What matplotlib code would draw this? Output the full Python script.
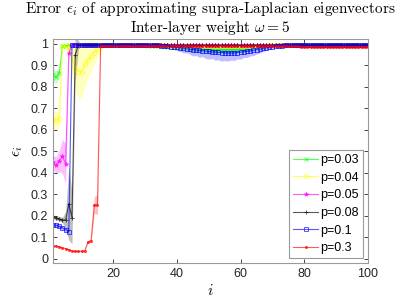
import numpy as np
import matplotlib
matplotlib.use('Agg')
import matplotlib.pyplot as plt

plt.rcParams['mathtext.fontset'] = 'cm'
plt.rcParams['font.family'] = 'Liberation Sans'

idx = np.arange(1, 101)

# mean error per eigenvector index, one list per edge probability p
err_p003 = [
    0.856, 0.845, 0.867, 0.990, 0.992, 0.993, 0.993, 0.994, 0.994, 0.994,
    0.994, 0.994, 0.994, 0.994, 0.994, 0.994, 0.994, 0.994, 0.994, 0.994,
    0.994, 0.994, 0.994, 0.993, 0.993, 0.993, 0.993, 0.993, 0.993, 0.993,
    0.992, 0.992, 0.991, 0.991, 0.990, 0.989, 0.988, 0.987, 0.986, 0.985,
    0.984, 0.983, 0.982, 0.981, 0.980, 0.979, 0.978, 0.977, 0.976, 0.975,
    0.975, 0.974, 0.974, 0.973, 0.973, 0.973, 0.973, 0.974, 0.975, 0.976,
    0.977, 0.978, 0.980, 0.982, 0.984, 0.986, 0.988, 0.990, 0.991, 0.992,
    0.993, 0.993, 0.994, 0.994, 0.994, 0.994, 0.994, 0.994, 0.994, 0.994,
    0.994, 0.994, 0.994, 0.994, 0.994, 0.994, 0.994, 0.994, 0.994, 0.994,
    0.994, 0.994, 0.994, 0.994, 0.994, 0.994, 0.994, 0.994, 0.994, 0.994,
]
sd_p003 = [
    0.025, 0.030, 0.020, 0.006, 0.004, 0.003, 0.003, 0.003, 0.003, 0.003,
    0.003, 0.003, 0.003, 0.003, 0.003, 0.003, 0.003, 0.003, 0.003, 0.003,
    0.003, 0.003, 0.003, 0.003, 0.003, 0.003, 0.003, 0.003, 0.003, 0.003,
    0.003, 0.003, 0.004, 0.004, 0.005, 0.006, 0.007, 0.008, 0.009, 0.010,
    0.011, 0.012, 0.013, 0.014, 0.015, 0.015, 0.016, 0.016, 0.017, 0.017,
    0.017, 0.018, 0.018, 0.018, 0.018, 0.018, 0.017, 0.017, 0.016, 0.015,
    0.014, 0.013, 0.012, 0.011, 0.010, 0.008, 0.007, 0.006, 0.005, 0.004,
    0.003, 0.003, 0.003, 0.003, 0.003, 0.003, 0.003, 0.003, 0.003, 0.003,
    0.003, 0.003, 0.003, 0.003, 0.003, 0.003, 0.003, 0.003, 0.003, 0.003,
    0.003, 0.003, 0.003, 0.003, 0.003, 0.003, 0.003, 0.003, 0.003, 0.003,
]

err_p004 = [
    0.650, 0.640, 0.652, 0.990, 0.990, 0.980, 0.930, 0.890, 0.871, 0.870,
    0.905, 0.925, 0.945, 0.960, 0.975, 0.990, 0.993, 0.993, 0.993, 0.993,
    0.993, 0.993, 0.993, 0.993, 0.993, 0.993, 0.993, 0.993, 0.993, 0.993,
    0.993, 0.993, 0.993, 0.993, 0.993, 0.993, 0.993, 0.992, 0.992, 0.992,
    0.992, 0.992, 0.991, 0.991, 0.991, 0.991, 0.990, 0.990, 0.990, 0.990,
    0.990, 0.990, 0.990, 0.990, 0.990, 0.990, 0.990, 0.990, 0.990, 0.990,
    0.990, 0.991, 0.991, 0.991, 0.991, 0.992, 0.992, 0.992, 0.993, 0.993,
    0.993, 0.993, 0.993, 0.993, 0.993, 0.993, 0.993, 0.993, 0.993, 0.993,
    0.993, 0.993, 0.993, 0.993, 0.993, 0.993, 0.993, 0.993, 0.993, 0.993,
    0.993, 0.993, 0.993, 0.993, 0.993, 0.993, 0.993, 0.993, 0.993, 0.993,
]
sd_p004 = [
    0.040, 0.045, 0.040, 0.010, 0.010, 0.030, 0.080, 0.100, 0.125, 0.120,
    0.110, 0.085, 0.075, 0.055, 0.040, 0.020, 0.003, 0.003, 0.003, 0.003,
    0.003, 0.003, 0.003, 0.003, 0.003, 0.003, 0.003, 0.003, 0.003, 0.003,
    0.003, 0.003, 0.003, 0.003, 0.003, 0.003, 0.003, 0.003, 0.003, 0.003,
    0.004, 0.004, 0.004, 0.005, 0.005, 0.005, 0.005, 0.005, 0.005, 0.005,
    0.005, 0.005, 0.005, 0.005, 0.005, 0.005, 0.005, 0.005, 0.005, 0.005,
    0.005, 0.004, 0.004, 0.004, 0.004, 0.003, 0.003, 0.003, 0.003, 0.003,
    0.003, 0.003, 0.003, 0.003, 0.003, 0.003, 0.003, 0.003, 0.003, 0.003,
    0.003, 0.003, 0.003, 0.003, 0.003, 0.003, 0.003, 0.003, 0.003, 0.003,
    0.003, 0.003, 0.003, 0.003, 0.003, 0.003, 0.003, 0.003, 0.003, 0.003,
]

err_p005 = [
    0.450, 0.434, 0.456, 0.476, 0.442, 0.957, 0.993, 0.994, 0.994, 0.994,
    0.994, 0.994, 0.994, 0.994, 0.994, 0.994, 0.994, 0.994, 0.994, 0.994,
    0.994, 0.994, 0.994, 0.994, 0.994, 0.994, 0.994, 0.994, 0.994, 0.994,
    0.994, 0.994, 0.994, 0.993, 0.993, 0.993, 0.993, 0.993, 0.993, 0.993,
    0.993, 0.993, 0.993, 0.993, 0.993, 0.993, 0.993, 0.993, 0.993, 0.993,
    0.993, 0.993, 0.993, 0.993, 0.993, 0.993, 0.993, 0.993, 0.993, 0.993,
    0.993, 0.993, 0.993, 0.993, 0.993, 0.993, 0.993, 0.993, 0.993, 0.993,
    0.993, 0.993, 0.993, 0.993, 0.993, 0.993, 0.993, 0.993, 0.993, 0.993,
    0.993, 0.993, 0.993, 0.993, 0.993, 0.993, 0.993, 0.993, 0.993, 0.993,
    0.993, 0.993, 0.993, 0.993, 0.993, 0.993, 0.993, 0.993, 0.993, 0.993,
]
sd_p005 = [
    0.030, 0.040, 0.050, 0.080, 0.095, 0.030, 0.005, 0.003, 0.003, 0.003,
    0.003, 0.003, 0.003, 0.003, 0.003, 0.003, 0.003, 0.003, 0.003, 0.003,
    0.003, 0.003, 0.003, 0.003, 0.003, 0.003, 0.003, 0.003, 0.003, 0.003,
    0.003, 0.003, 0.003, 0.003, 0.003, 0.003, 0.003, 0.003, 0.003, 0.003,
    0.003, 0.003, 0.003, 0.003, 0.003, 0.003, 0.003, 0.003, 0.003, 0.003,
    0.003, 0.003, 0.003, 0.003, 0.003, 0.003, 0.003, 0.003, 0.003, 0.003,
    0.003, 0.003, 0.003, 0.003, 0.003, 0.003, 0.003, 0.003, 0.003, 0.003,
    0.003, 0.003, 0.003, 0.003, 0.003, 0.003, 0.003, 0.003, 0.003, 0.003,
    0.003, 0.003, 0.003, 0.003, 0.003, 0.003, 0.003, 0.003, 0.003, 0.003,
    0.003, 0.003, 0.003, 0.003, 0.003, 0.003, 0.003, 0.003, 0.003, 0.003,
]

err_p008 = [
    0.194, 0.190, 0.186, 0.180, 0.180, 0.256, 0.190, 0.950, 0.995, 0.996,
    0.996, 0.996, 0.996, 0.996, 0.996, 0.996, 0.996, 0.996, 0.996, 0.996,
    0.996, 0.996, 0.996, 0.996, 0.996, 0.996, 0.996, 0.996, 0.996, 0.996,
    0.996, 0.996, 0.996, 0.996, 0.995, 0.995, 0.995, 0.995, 0.995, 0.995,
    0.995, 0.995, 0.995, 0.995, 0.995, 0.995, 0.995, 0.995, 0.995, 0.995,
    0.995, 0.995, 0.995, 0.995, 0.995, 0.995, 0.995, 0.995, 0.995, 0.995,
    0.995, 0.995, 0.995, 0.995, 0.995, 0.995, 0.995, 0.995, 0.995, 0.995,
    0.996, 0.996, 0.996, 0.996, 0.996, 0.996, 0.996, 0.996, 0.996, 0.996,
    0.996, 0.996, 0.996, 0.996, 0.996, 0.996, 0.996, 0.996, 0.996, 0.996,
    0.996, 0.996, 0.996, 0.996, 0.996, 0.996, 0.996, 0.996, 0.996, 0.996,
]
sd_p008 = [
    0.010, 0.010, 0.010, 0.012, 0.040, 0.170, 0.120, 0.120, 0.020, 0.003,
    0.003, 0.003, 0.003, 0.003, 0.003, 0.003, 0.003, 0.003, 0.003, 0.003,
    0.003, 0.003, 0.003, 0.003, 0.003, 0.003, 0.003, 0.003, 0.003, 0.003,
    0.003, 0.003, 0.003, 0.003, 0.003, 0.003, 0.003, 0.003, 0.003, 0.003,
    0.003, 0.003, 0.003, 0.003, 0.003, 0.003, 0.003, 0.003, 0.003, 0.003,
    0.003, 0.003, 0.003, 0.003, 0.003, 0.003, 0.003, 0.003, 0.003, 0.003,
    0.003, 0.003, 0.003, 0.003, 0.003, 0.003, 0.003, 0.003, 0.003, 0.003,
    0.003, 0.003, 0.003, 0.003, 0.003, 0.003, 0.003, 0.003, 0.003, 0.003,
    0.003, 0.003, 0.003, 0.003, 0.003, 0.003, 0.003, 0.003, 0.003, 0.003,
    0.003, 0.003, 0.003, 0.003, 0.003, 0.003, 0.003, 0.003, 0.003, 0.003,
]

err_p01 = [
    0.158, 0.155, 0.150, 0.143, 0.135, 0.126, 0.996, 0.997, 0.997, 0.997,
    0.997, 0.997, 0.997, 0.997, 0.997, 0.997, 0.997, 0.997, 0.997, 0.997,
    0.997, 0.997, 0.997, 0.997, 0.997, 0.997, 0.997, 0.997, 0.997, 0.997,
    0.996, 0.995, 0.994, 0.993, 0.992, 0.991, 0.990, 0.988, 0.986, 0.984,
    0.982, 0.980, 0.978, 0.976, 0.974, 0.972, 0.970, 0.969, 0.967, 0.965,
    0.963, 0.962, 0.961, 0.960, 0.959, 0.958, 0.958, 0.959, 0.960, 0.962,
    0.964, 0.966, 0.968, 0.970, 0.973, 0.976, 0.979, 0.982, 0.985, 0.987,
    0.989, 0.991, 0.992, 0.993, 0.994, 0.995, 0.996, 0.996, 0.997, 0.997,
    0.997, 0.997, 0.997, 0.997, 0.997, 0.997, 0.997, 0.997, 0.997, 0.997,
    0.997, 0.997, 0.997, 0.997, 0.997, 0.997, 0.997, 0.997, 0.997, 0.997,
]
sd_p01 = [
    0.010, 0.010, 0.010, 0.010, 0.010, 0.010, 0.003, 0.002, 0.002, 0.002,
    0.002, 0.002, 0.002, 0.002, 0.002, 0.002, 0.002, 0.002, 0.002, 0.002,
    0.002, 0.002, 0.002, 0.002, 0.002, 0.002, 0.002, 0.002, 0.002, 0.002,
    0.003, 0.004, 0.005, 0.006, 0.007, 0.008, 0.009, 0.011, 0.013, 0.015,
    0.017, 0.022, 0.019, 0.024, 0.030, 0.026, 0.032, 0.028, 0.034, 0.036,
    0.031, 0.038, 0.035, 0.040, 0.036, 0.038, 0.033, 0.036, 0.030, 0.033,
    0.027, 0.029, 0.024, 0.025, 0.020, 0.018, 0.015, 0.012, 0.010, 0.008,
    0.006, 0.005, 0.004, 0.003, 0.003, 0.002, 0.002, 0.002, 0.002, 0.002,
    0.002, 0.002, 0.002, 0.002, 0.002, 0.002, 0.002, 0.002, 0.002, 0.002,
    0.002, 0.002, 0.002, 0.002, 0.002, 0.002, 0.002, 0.002, 0.002, 0.002,
]

err_p03 = [
    0.060, 0.058, 0.055, 0.050, 0.047, 0.042, 0.036, 0.034, 0.034, 0.034,
    0.035, 0.078, 0.084, 0.250, 0.250, 0.990, 0.991, 0.991, 0.991, 0.991,
    0.991, 0.991, 0.991, 0.991, 0.991, 0.991, 0.991, 0.991, 0.991, 0.991,
    0.991, 0.991, 0.991, 0.991, 0.991, 0.991, 0.991, 0.991, 0.991, 0.991,
    0.991, 0.991, 0.991, 0.991, 0.991, 0.991, 0.991, 0.991, 0.991, 0.991,
    0.991, 0.991, 0.991, 0.991, 0.991, 0.991, 0.991, 0.991, 0.991, 0.991,
    0.991, 0.991, 0.991, 0.991, 0.991, 0.991, 0.991, 0.991, 0.991, 0.991,
    0.990, 0.990, 0.990, 0.990, 0.990, 0.989, 0.989, 0.989, 0.988, 0.988,
    0.988, 0.988, 0.987, 0.987, 0.987, 0.987, 0.987, 0.987, 0.987, 0.987,
    0.987, 0.987, 0.987, 0.987, 0.987, 0.987, 0.987, 0.987, 0.987, 0.987,
]
sd_p03 = [
    0.002, 0.002, 0.002, 0.002, 0.002, 0.002, 0.002, 0.002, 0.002, 0.002,
    0.002, 0.004, 0.006, 0.040, 0.045, 0.004, 0.003, 0.003, 0.003, 0.003,
    0.003, 0.003, 0.003, 0.003, 0.003, 0.003, 0.003, 0.003, 0.003, 0.003,
    0.003, 0.003, 0.003, 0.003, 0.003, 0.003, 0.003, 0.003, 0.003, 0.003,
    0.003, 0.003, 0.003, 0.003, 0.003, 0.003, 0.003, 0.003, 0.003, 0.003,
    0.003, 0.003, 0.003, 0.003, 0.003, 0.003, 0.003, 0.003, 0.003, 0.003,
    0.003, 0.003, 0.003, 0.003, 0.003, 0.003, 0.003, 0.003, 0.003, 0.003,
    0.004, 0.004, 0.004, 0.005, 0.005, 0.005, 0.006, 0.006, 0.006, 0.007,
    0.007, 0.007, 0.008, 0.008, 0.008, 0.008, 0.008, 0.008, 0.008, 0.008,
    0.008, 0.008, 0.008, 0.008, 0.008, 0.008, 0.008, 0.008, 0.008, 0.008,
]

labels = ['p=0.03', 'p=0.04', 'p=0.05', 'p=0.08', 'p=0.1', 'p=0.3']
means = [err_p003, err_p004, err_p005, err_p008, err_p01, err_p03]
sds = [sd_p003, sd_p004, sd_p005, sd_p008, sd_p01, sd_p03]
colors = ['#00ff00', '#ffff00', '#ff00ff', '#000000', '#0000ff', '#ff0000']
markers = ['x', 'o', '*', '+', 's', '.']

fig = plt.figure(figsize=(4.07, 3.05), dpi=100)
ax = fig.add_axes([0.130, 0.138, 0.774, 0.734])

for m, s, c in zip(means, sds, colors):
    m = np.array(m)
    s = np.array(s)
    ax.fill_between(idx, m - s, m + s, color=c, alpha=0.25, linewidth=0)

for m, c, mk, lab in zip(means, colors, markers, labels):
    ax.plot(idx, m, color=c, marker=mk, markersize=3, markerfacecolor='none' if mk in ('o', 's') else c,
            linewidth=0.8, markeredgewidth=0.7, alpha=0.65, label=lab)

ax.set_xlim(1, 100)
ax.set_ylim(-0.02, 1.023)
ax.set_xticks([20, 40, 60, 80, 100])
ax.set_yticks(np.arange(0, 1.01, 0.1))
ax.set_yticklabels(['0', '0.1', '0.2', '0.3', '0.4', '0.5', '0.6', '0.7', '0.8', '0.9', '1'])
ax.tick_params(direction='in', length=3, width=0.6, top=True, right=True,
               labelsize=9, colors='#262626')
for sp in ax.spines.values():
    sp.set_color('#9a9a9a')
    sp.set_linewidth(0.8)

ax.set_title('Error $\\epsilon_i$ of approximating supra-Laplacian eigenvectors\n'
             'Inter-layer weight $\\omega = 5$', fontsize=11, family='cmr10',
             pad=5, linespacing=1.1)
ax.set_xlabel('$i$', fontsize=11, labelpad=2)
ax.set_ylabel('$\\epsilon_i$', fontsize=11, labelpad=4)

leg = ax.legend(loc='lower right', fontsize=9, fancybox=False, framealpha=1,
                edgecolor='#9a9a9a', handlelength=2.0, labelspacing=0.45,
                borderaxespad=0.4, handletextpad=0.2, borderpad=0.3)
leg.get_frame().set_linewidth(0.8)

fig.savefig('out.png', dpi=100)
